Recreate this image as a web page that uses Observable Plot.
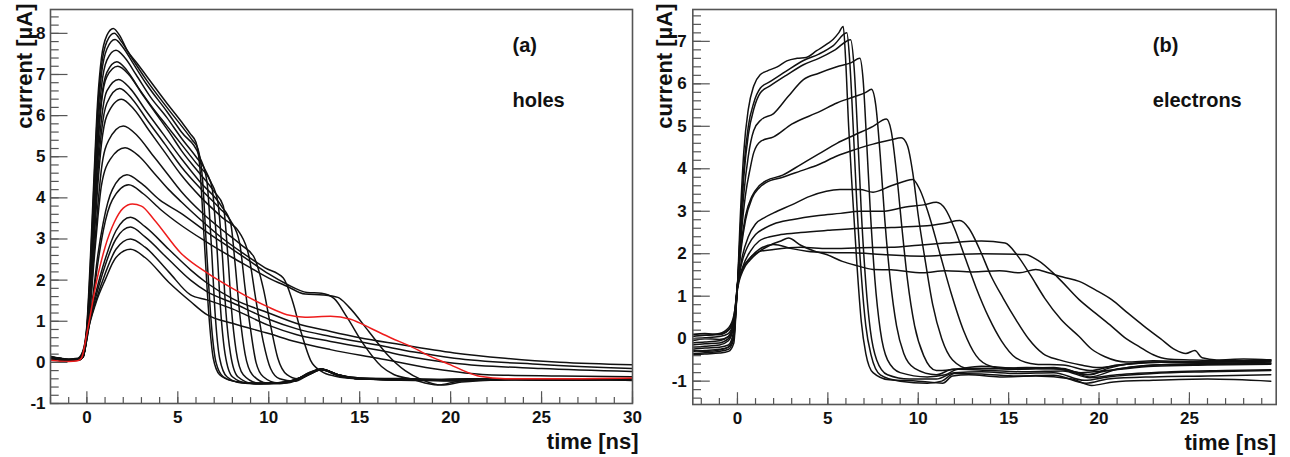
<!DOCTYPE html>
<html><head><meta charset="utf-8">
<script src="https://cdn.jsdelivr.net/npm/d3@7"></script>
<script src="https://cdn.jsdelivr.net/npm/@observablehq/plot@0.6"></script>
<style>
body{margin:0;background:#fff;}
#wrap{position:relative;width:1290px;height:457px;background:#fff;}
#wrap > svg{position:absolute;top:0;}
</style></head><body><div id="wrap"></div>
<script>
// ---------- (a) holes: [time ns, current uA] ----------
const h1 = [[-2,0.15],[-1.5,0.1],[-1,0.08],[-0.5,0.1],[-0.2,0.3],[0,0.9],[0.2,2.6],[0.4,4.6],[0.6,6.4],[0.8,7.4],[1.1,7.95],[1.45,8.12],[1.8,7.95],[2.2,7.6],[2.8,7.25],[3.3,6.95],[4.4,6.3],[5.2,5.85],[5.7,5.55],[6.0,5.35],[6.2,4.8],[6.45,3.0],[6.7,1.2],[6.95,0.1],[7.3,-0.3],[8,-0.45],[9,-0.5],[10.5,-0.5],[11.5,-0.42],[12.2,-0.25],[12.9,-0.17],[13.6,-0.28],[14.5,-0.38],[16,-0.4],[18,-0.42],[20,-0.43],[22,-0.4],[25,-0.42],[28,-0.4],[30,-0.42]];
const h2 = [[-2,0.12],[-1.5,0.1],[-1,0.06],[-0.5,0.08],[-0.2,0.28],[0,0.85],[0.2,2.4],[0.4,4.4],[0.6,6.2],[0.8,7.2],[1.1,7.8],[1.5,8.0],[1.9,7.8],[2.4,7.45],[3.3,6.85],[4.4,6.2],[5.2,5.75],[5.8,5.4],[6.1,5.2],[6.35,4.5],[6.6,2.6],[6.85,0.9],[7.1,0.0],[7.5,-0.35],[8.3,-0.48],[9.5,-0.52],[11,-0.48],[11.8,-0.38],[12.9,-0.18],[13.7,-0.3],[15,-0.4],[17,-0.42],[20,-0.44],[24,-0.4],[27,-0.43],[30,-0.4]];
const h3 = [[-2,0.1],[-1.5,0.08],[-1,0.05],[-0.5,0.07],[-0.2,0.25],[0,0.8],[0.2,2.2],[0.4,4.2],[0.6,6.0],[0.8,7.0],[1.1,7.62],[1.55,7.85],[2.0,7.65],[2.5,7.3],[3.3,6.75],[4.4,6.1],[5.2,5.6],[6.2,5.0],[6.6,4.4],[6.85,2.8],[7.05,1.2],[7.3,0.1],[7.7,-0.35],[8.5,-0.5],[9.5,-0.52],[11,-0.47],[11.8,-0.36],[12.9,-0.16],[13.8,-0.3],[15,-0.38],[18,-0.4],[21,-0.42],[25,-0.4],[30,-0.44]];
const h4 = [[-2,0.14],[-1.5,0.1],[-1,0.07],[-0.5,0.08],[-0.2,0.26],[0,0.8],[0.2,2.1],[0.4,4.0],[0.6,5.7],[0.8,6.7],[1.1,7.35],[1.6,7.59],[2.1,7.4],[2.7,7.0],[3.5,6.45],[4.4,5.95],[5.2,5.45],[6.0,5.0],[6.6,4.6],[6.9,4.2],[7.15,2.8],[7.35,1.3],[7.6,0.2],[8.0,-0.35],[8.8,-0.5],[10,-0.52],[11.2,-0.45],[12,-0.32],[12.9,-0.17],[13.8,-0.3],[15,-0.4],[18,-0.42],[22,-0.41],[26,-0.42],[30,-0.41]];
const h5 = [[-2,0.1],[-1.5,0.07],[-1,0.05],[-0.5,0.07],[-0.2,0.24],[0,0.75],[0.2,2.0],[0.4,3.8],[0.6,5.4],[0.8,6.4],[1.1,7.05],[1.65,7.31],[2.2,7.1],[2.8,6.7],[3.6,6.2],[4.4,5.75],[5.2,5.3],[6.0,4.85],[6.8,4.4],[7.2,3.9],[7.45,2.6],[7.65,1.2],[7.9,0.2],[8.3,-0.35],[9.2,-0.52],[10.5,-0.5],[11.5,-0.42],[12.2,-0.26],[12.9,-0.16],[13.8,-0.32],[15,-0.4],[18,-0.44],[21,-0.4],[25,-0.43],[30,-0.4]];
const h6 = [[-2,0.12],[-1.5,0.1],[-1,0.06],[-0.5,0.06],[-0.2,0.22],[0,0.72],[0.2,1.9],[0.4,3.6],[0.6,5.2],[0.8,6.3],[1.1,6.95],[1.7,7.2],[2.3,7.0],[3.0,6.55],[3.8,6.05],[4.6,5.55],[5.2,5.15],[6.0,4.7],[7.0,4.15],[7.5,3.8],[7.75,2.6],[7.95,1.3],[8.2,0.3],[8.6,-0.3],[9.4,-0.5],[10.6,-0.52],[11.6,-0.4],[12.9,-0.18],[13.8,-0.31],[15,-0.4],[18,-0.41],[21,-0.44],[25,-0.41],[30,-0.42]];
const h7 = [[-2,0.1],[-1.5,0.08],[-1,0.05],[-0.5,0.06],[-0.2,0.2],[0,0.7],[0.2,1.8],[0.4,3.4],[0.6,4.9],[0.8,5.9],[1.1,6.6],[1.75,6.88],[2.4,6.65],[3.2,6.15],[4.2,5.55],[5.2,4.95],[6.2,4.4],[7.4,3.8],[7.9,3.4],[8.15,2.4],[8.4,1.2],[8.7,0.2],[9.1,-0.3],[9.9,-0.5],[11,-0.5],[11.8,-0.38],[12.9,-0.17],[13.8,-0.3],[15,-0.4],[18,-0.43],[22,-0.4],[26,-0.43],[30,-0.4]];
const h8 = [[-2,0.13],[-1.5,0.1],[-1,0.07],[-0.5,0.07],[-0.2,0.2],[0,0.68],[0.2,1.7],[0.4,3.2],[0.6,4.6],[0.8,5.6],[1.1,6.3],[1.8,6.66],[2.5,6.4],[3.3,5.9],[4.3,5.3],[5.2,4.75],[6.3,4.2],[7.3,3.75],[7.9,3.45],[8.4,2.9],[8.7,1.8],[9.0,0.8],[9.3,0.0],[9.7,-0.35],[10.5,-0.5],[11.4,-0.45],[12.2,-0.28],[12.9,-0.17],[13.8,-0.3],[15,-0.38],[18,-0.42],[21,-0.42],[25,-0.4],[30,-0.43]];
const h9 = [[-2,0.1],[-1.5,0.07],[-1,0.04],[-0.5,0.05],[-0.2,0.18],[0,0.65],[0.2,1.6],[0.4,3.0],[0.6,4.3],[0.8,5.3],[1.1,6.0],[1.9,6.4],[2.6,6.15],[3.4,5.65],[4.3,5.1],[5.2,4.55],[6.3,4.0],[7.5,3.5],[8.4,3.15],[8.9,2.6],[9.3,1.5],[9.7,0.5],[10.1,-0.15],[10.6,-0.4],[11.4,-0.46],[12.2,-0.3],[12.9,-0.18],[13.8,-0.3],[15,-0.4],[18,-0.43],[22,-0.42],[26,-0.4],[30,-0.41]];
const h10 = [[-2,0.12],[-1.5,0.09],[-1,0.06],[-0.5,0.06],[-0.2,0.17],[0,0.62],[0.2,1.5],[0.4,2.7],[0.6,3.8],[0.8,4.7],[1.2,5.4],[2.0,5.75],[2.8,5.5],[3.6,5.05],[4.4,4.6],[5.2,4.15],[6.3,3.65],[7.5,3.2],[8.5,2.85],[9.2,2.55],[9.7,1.8],[10.1,0.9],[10.5,0.1],[11.0,-0.3],[11.6,-0.4],[12.3,-0.28],[12.9,-0.17],[13.8,-0.3],[15,-0.4],[17,-0.42],[20,-0.45],[24,-0.41],[30,-0.43]];
const h11 = [[-2,0.1],[-1.5,0.07],[-1,0.05],[-0.5,0.05],[-0.2,0.16],[0,0.6],[0.2,1.4],[0.4,2.5],[0.6,3.5],[0.8,4.3],[1.3,4.95],[2.1,5.22],[2.9,5.0],[3.7,4.6],[4.5,4.2],[5.2,3.9],[6.3,3.45],[7.5,3.0],[8.6,2.65],[9.8,2.3],[10.8,2.05],[11.3,1.5],[11.8,0.7],[12.3,0.05],[12.9,-0.22],[13.6,-0.33],[15,-0.4],[17,-0.41],[20,-0.44],[24,-0.42],[30,-0.4]];
const h12 = [[-2,0.12],[-1.5,0.08],[-1,0.05],[-0.5,0.05],[-0.2,0.15],[0,0.58],[0.3,1.5],[0.6,2.6],[0.9,3.4],[1.4,4.2],[2.2,4.56],[3.0,4.35],[4.0,3.95],[5.16,3.63],[6.5,3.2],[8,2.75],[9,2.45],[10,2.15],[11,1.9],[12.1,1.7],[12.9,1.68],[13.6,1.55],[14.3,1.1],[15.2,0.45],[16.2,-0.1],[16.9,-0.3],[17.8,-0.4],[19.3,-0.55],[20.5,-0.45],[23,-0.4],[26,-0.42],[30,-0.4]];
const h13 = [[-2,0.1],[-1.5,0.07],[-1,0.04],[-0.5,0.05],[-0.2,0.15],[0,0.56],[0.3,1.4],[0.6,2.4],[0.9,3.2],[1.4,3.95],[2.3,4.32],[3.1,4.1],[4.1,3.7],[5.16,3.34],[6.5,2.95],[8,2.55],[9,2.3],[10,2.05],[11,1.85],[12,1.66],[13,1.64],[13.8,1.58],[14.4,1.35],[15.5,0.75],[16.5,0.2],[17.5,-0.2],[18.4,-0.42],[19.5,-0.55],[20.6,-0.48],[23,-0.42],[26,-0.4],[30,-0.42]];
const h15 = [[-2,0.1],[-1.5,0.07],[-1,0.05],[-0.5,0.05],[-0.2,0.14],[0,0.7],[0.5,1.7],[1,2.5],[1.6,3.2],[2.4,3.53],[3.2,3.3],[4.5,2.75],[5.7,2.25],[6.6,1.93],[8,1.55],[10,1.2],[11.5,0.95],[13.4,0.75],[15,0.6],[17,0.45],[20.2,0.23],[23,0.1],[26,0.0],[30,-0.06]];
const h16 = [[-2,0.12],[-1.5,0.08],[-1,0.05],[-0.5,0.06],[-0.2,0.14],[0,0.68],[0.5,1.6],[1,2.35],[1.6,3.0],[2.4,3.29],[3.2,3.05],[4.5,2.5],[5.7,2.0],[6.6,1.72],[8,1.45],[10,1.05],[11.5,0.82],[13.4,0.63],[16,0.42],[18,0.25],[20.2,0.1],[25,-0.05],[30,-0.15]];
const h17 = [[-2,0.08],[-1.5,0.06],[-1,0.04],[-0.5,0.05],[-0.2,0.13],[0,0.66],[0.5,1.5],[1,2.15],[1.6,2.75],[2.4,3.0],[3.2,2.8],[4.5,2.2],[5.7,1.64],[6.6,1.52],[8,1.3],[10,0.9],[11.5,0.68],[13.4,0.51],[16,0.3],[18,0.12],[20.2,-0.02],[25,-0.15],[30,-0.22]];
const h18 = [[-2,0.1],[-1.5,0.07],[-1,0.05],[-0.5,0.05],[-0.2,0.13],[0,0.64],[0.5,1.45],[1,2.0],[1.6,2.55],[2.4,2.75],[3.2,2.55],[4.5,1.95],[5.7,1.48],[6.6,1.16],[8,0.95],[10,0.7],[11.5,0.5],[13.4,0.31],[16,0.1],[19,-0.15],[22,-0.3],[26,-0.33],[30,-0.35]];
const hRed = [[-2,0.05],[-1.5,0.03],[-1,0.02],[-0.5,0.04],[-0.3,0.1],[0,0.7],[0.5,1.9],[1,2.8],[1.5,3.4],[2,3.75],[2.5,3.85],[3,3.8],[3.7,3.47],[5.16,2.66],[6.63,2.17],[8,1.8],[9.9,1.36],[11,1.16],[12,1.1],[13.4,1.12],[14.5,1.05],[15.6,0.83],[16.7,0.6],[17.8,0.39],[19,0.12],[20,-0.06],[20.8,-0.22],[21.6,-0.34],[23,-0.4],[26,-0.4],[30,-0.38]];
const holesBlack = [h1,h2,h3,h4,h5,h6,h7,h8,h9,h10,h11,h12,h13,h15,h16,h17,h18];

// ---------- (b) electrons ----------
const e1 = [[-2.5,-0.05],[-1.8,0.0],[-1,-0.02],[-0.5,0.05],[-0.2,0.3],[0,1.25],[0.15,2.8],[0.35,4.4],[0.6,5.4],[0.9,5.95],[1.27,6.22],[1.63,6.3],[2.2,6.4],[2.73,6.54],[3.3,6.6],[3.8,6.62],[4.38,6.78],[5.0,6.95],[5.3,7.05],[5.6,7.2],[5.85,7.35],[5.98,6.6],[6.15,5.0],[6.35,3.5],[6.6,1.8],[6.85,0.4],[7.1,-0.35],[7.5,-0.8],[8.4,-0.97],[10,-1.0],[11.35,-1.05],[11.9,-0.88],[12.8,-0.85],[14.5,-0.9],[16.5,-0.88],[18.5,-0.95],[19.6,-1.1],[20.8,-1.02],[23,-0.98],[26,-0.95],[29.5,-1.0]];
const e2 = [[-2.5,0.1],[-1.8,0.08],[-1,0.12],[-0.5,0.25],[-0.2,0.55],[0,1.25],[0.15,2.5],[0.35,4.0],[0.6,5.0],[0.9,5.55],[1.27,5.9],[1.8,6.05],[2.7,6.3],[3.65,6.55],[4.5,6.7],[5.3,6.9],[6.05,7.2],[6.2,6.6],[6.4,5.0],[6.6,3.2],[6.85,1.5],[7.1,0.3],[7.4,-0.4],[7.9,-0.85],[9,-1.0],[10.5,-1.05],[11.3,-1.0],[12,-0.82],[13.5,-0.83],[15.5,-0.88],[17.5,-0.86],[19.3,-1.05],[20.5,-0.95],[23,-0.9],[26,-0.88],[29.5,-0.85]];
const e3 = [[-2.5,-0.1],[-1.8,-0.08],[-1,-0.05],[-0.5,0.05],[-0.2,0.4],[0,1.25],[0.15,2.4],[0.35,3.8],[0.6,4.8],[0.9,5.4],[1.27,5.79],[1.8,5.95],[2.7,6.2],[3.65,6.45],[4.5,6.6],[5.4,6.8],[6.26,7.04],[6.45,6.4],[6.65,4.8],[6.85,3.0],[7.1,1.3],[7.35,0.2],[7.7,-0.5],[8.3,-0.85],[9.5,-0.95],[11,-0.95],[12,-0.8],[13.5,-0.78],[15.5,-0.82],[17.5,-0.8],[19.2,-0.98],[20.5,-0.9],[23,-0.82],[26,-0.78],[29.5,-0.75]];
const e4 = [[-2.5,0.0],[-1.8,0.02],[-1,0.05],[-0.5,0.12],[-0.2,0.45],[0,1.25],[0.15,2.2],[0.35,3.4],[0.6,4.3],[0.9,4.9],[1.3,5.15],[2.0,5.3],[2.8,5.7],[3.65,6.1],[4.5,6.25],[5.5,6.4],[6.3,6.5],[6.77,6.6],[6.95,6.1],[7.15,4.6],[7.35,3.0],[7.6,1.4],[7.9,0.2],[8.3,-0.5],[9,-0.8],[10.5,-0.9],[11.5,-0.85],[12.2,-0.72],[14,-0.75],[16,-0.78],[18,-0.76],[19.5,-0.92],[21,-0.85],[24,-0.78],[27,-0.75],[29.5,-0.73]];
const e5 = [[-2.5,-0.2],[-1.8,-0.18],[-1,-0.15],[-0.5,-0.05],[-0.2,0.3],[0,1.25],[0.2,2.4],[0.45,3.4],[0.7,4.0],[0.9,4.38],[1.3,4.65],[2.0,4.75],[3.0,5.05],[4.57,5.35],[5.5,5.55],[6.5,5.7],[7.1,5.8],[7.41,5.87],[7.65,5.5],[7.9,4.3],[8.15,2.8],[8.45,1.4],[8.8,0.3],[9.2,-0.35],[9.8,-0.7],[11,-0.85],[11.9,-0.72],[13.5,-0.7],[15.5,-0.72],[17.5,-0.7],[19,-0.8],[20.5,-0.75],[23,-0.65],[26,-0.62],[29.5,-0.6]];
const e6 = [[-2.5,-0.25],[-1.8,-0.22],[-1,-0.2],[-0.5,-0.15],[-0.2,0.2],[0,1.25],[0.2,2.2],[0.45,2.9],[0.8,3.35],[1.2,3.6],[1.6,3.72],[2.5,3.85],[3.5,4.1],[4.5,4.35],[5.5,4.6],[6.5,4.8],[7.5,5.0],[8.24,5.17],[8.5,4.9],[8.8,3.9],[9.1,2.6],[9.4,1.4],[9.8,0.3],[10.3,-0.4],[11,-0.75],[12,-0.72],[13.5,-0.65],[15.5,-0.7],[17.5,-0.68],[19.2,-0.85],[20.5,-0.75],[23,-0.62],[26,-0.6],[29.5,-0.58]];
const e7 = [[-2.5,-0.3],[-1.8,-0.28],[-1,-0.25],[-0.5,-0.2],[-0.2,0.1],[0,1.25],[0.2,2.1],[0.45,2.8],[0.8,3.3],[1.2,3.55],[1.6,3.68],[2.5,3.8],[3.5,3.95],[4.5,4.1],[5.5,4.3],[6.5,4.45],[7.5,4.58],[8.5,4.68],[9.06,4.73],[9.4,4.55],[9.7,3.9],[10.0,2.9],[10.4,1.8],[10.8,0.8],[11.3,0.0],[11.9,-0.5],[12.8,-0.7],[14,-0.7],[16,-0.68],[18,-0.7],[19.5,-0.9],[21,-0.72],[24,-0.6],[27,-0.58],[29.5,-0.55]];
const e8 = [[-2.5,0.05],[-1.8,0.08],[-1,0.1],[-0.5,0.2],[-0.2,0.5],[0,1.25],[0.25,1.9],[0.6,2.4],[1.0,2.7],[1.5,2.85],[2.0,2.96],[3,3.15],[4,3.35],[5.67,3.51],[6.77,3.51],[7.5,3.45],[8.5,3.6],[9.2,3.7],[9.7,3.75],[10.1,3.5],[10.6,2.9],[11.2,2.0],[11.8,1.1],[12.5,0.2],[13.2,-0.4],[14,-0.65],[15,-0.72],[16.5,-0.7],[18,-0.72],[19.5,-0.85],[20.5,-0.7],[23,-0.55],[26,-0.55],[29.5,-0.52]];
const e9 = [[-2.5,-0.15],[-1.8,-0.12],[-1,-0.1],[-0.5,0.0],[-0.2,0.3],[0,1.25],[0.25,1.8],[0.6,2.2],[1.0,2.45],[1.5,2.6],[2.0,2.7],[3,2.8],[4.5,2.9],[5.7,2.95],[6.77,3.0],[8,3.0],[9.3,3.1],[10.3,3.15],[11.0,3.21],[11.5,3.05],[12.0,2.6],[12.6,1.9],[13.2,1.2],[13.9,0.5],[14.6,-0.05],[15.4,-0.45],[16.5,-0.6],[18,-0.62],[19.5,-0.75],[21,-0.62],[24,-0.55],[27,-0.55],[29.5,-0.53]];
const e10 = [[-2.5,-0.35],[-1.8,-0.33],[-1,-0.3],[-0.5,-0.25],[-0.2,0.0],[0,1.2],[0.3,1.7],[0.7,2.05],[1.2,2.3],[1.8,2.4],[2.4,2.45],[3.5,2.5],[5,2.55],[6.8,2.6],[8.5,2.62],[10.25,2.65],[11.5,2.72],[12.3,2.78],[12.8,2.6],[13.4,2.1],[14.0,1.5],[14.7,0.95],[15.4,0.45],[16.1,0.0],[16.9,-0.35],[17.8,-0.5],[19,-0.62],[20,-0.68],[21.5,-0.6],[24,-0.55],[27,-0.6],[29.5,-0.58]];
const e11 = [[-2.5,-0.28],[-1.8,-0.3],[-1,-0.27],[-0.5,-0.2],[-0.2,0.05],[0,1.2],[0.3,1.65],[0.7,1.9],[1.2,2.05],[2.0,2.1],[3.5,2.15],[5,2.12],[6.8,2.14],[8.5,2.15],[10,2.2],[11.5,2.25],[13.5,2.3],[14.8,2.25],[15.5,1.95],[16.2,1.5],[17,0.95],[17.9,0.45],[18.9,0.05],[19.6,-0.25],[20.3,-0.42],[21.5,-0.55],[23,-0.52],[26,-0.55],[29.5,-0.5]];
const e12 = [[-2.5,0.1],[-1.8,0.12],[-1,0.1],[-0.5,0.2],[-0.2,0.45],[0,1.25],[0.3,1.65],[0.7,1.9],[1.2,2.1],[2.0,2.22],[3.0,2.12],[3.84,2.06],[5,2.03],[6.4,2.02],[8,1.98],[10.25,1.94],[12,1.98],[13.5,2.0],[15.9,1.98],[16.6,1.85],[17.7,1.45],[18.9,0.92],[19.8,0.6],[20.7,0.29],[21.5,0.0],[22.2,-0.18],[23,-0.38],[23.8,-0.48],[25,-0.5],[27,-0.52],[29.5,-0.5]];
const e13 = [[-2.5,-0.38],[-1.8,-0.36],[-1,-0.34],[-0.5,-0.3],[-0.2,-0.1],[0,1.15],[0.3,1.6],[0.7,1.85],[1.2,2.05],[1.8,2.2],[2.4,2.3],[2.82,2.37],[3.5,2.2],[4.2,2.07],[4.93,1.98],[5.8,1.82],[6.6,1.72],[7.5,1.63],[8.5,1.62],[10.25,1.55],[11.5,1.6],[13,1.57],[14.5,1.6],[15.6,1.55],[16.5,1.63],[17.2,1.55],[18.0,1.45],[18.9,1.35],[19.8,1.15],[20.7,0.92],[21.6,0.6],[22.5,0.29],[23.4,0.0],[24.2,-0.26],[24.8,-0.35],[25.3,-0.28],[25.7,-0.45],[26.5,-0.5],[28,-0.48],[29.5,-0.5]];
const electronsBlack = [e1,e2,e3,e4,e5,e6,e7,e8,e9,e10,e11,e12,e13];

// ---------- ticks ----------
const aXMajor = [0,5,10,15,20,25,30];
const aXMinor = d3.range(-2, 30.01, 1);
const aYMajor = [-1,0,1,2,3,4,5,6,7,8];
const aYMinor = d3.range(-1, 8.59, 0.2);
const bXMajor = [0,5,10,15,20,25];
const bXMinor = d3.range(-2, 29.81, 1);
const bYMajor = [-1,0,1,2,3,4,5,6,7];
const bYMinor = d3.range(-1.4, 7.76, 0.2);

const FONT = "'Liberation Sans', Arial, Helvetica, sans-serif";
const FRAME = "#555";
const INK = "#111";

function rows(list) {
  const out = [];
  list.forEach((c, k) => c.forEach(([t, i]) => out.push({t, i, id: k})));
  return out;
}

function panel(o) {
  const W = o.width - o.ml - o.mr, H = o.height - o.mt - o.mb;
  const bold = {fontFamily: FONT, fontWeight: "bold", fill: INK};
  const marks = [
    Plot.line(rows(o.black), {x: "t", y: "i", z: "id", stroke: INK, strokeWidth: 1.5, curve: "monotone-x", clip: true}),
  ];
  if (o.red) marks.push(Plot.line(o.red, {x: d => d[0], y: d => d[1], stroke: "#ee1c1c", strokeWidth: 1.5, curve: "monotone-x", clip: true}));
  marks.push(
    Plot.tickY(o.yMinor, {insetRight: W - 8.7, stroke: FRAME, strokeWidth: 1.2}),
    Plot.tickY(o.yMajor, {insetRight: W - 17.5, stroke: FRAME, strokeWidth: 1.2}),
    Plot.tickX(o.xMinor, {insetTop: H - 5.9, stroke: FRAME, strokeWidth: 1.2}),
    Plot.tickX(o.xMajor, {insetTop: H - 11.8, stroke: FRAME, strokeWidth: 1.2}),
    Plot.frame({stroke: FRAME, strokeWidth: 1.6}),
    // tick labels
    Plot.text(o.xMajor, {x: d => d, text: d => String(d), frameAnchor: "bottom", lineAnchor: "middle", dy: 14, fontSize: 17, ...bold}),
    Plot.text(o.yMajor, {y: d => d, text: d => String(d), frameAnchor: "left", textAnchor: "end", lineAnchor: "middle", dx: -o.ypad, fontSize: 17, ...bold}),
    // axis titles
    Plot.text(["current [µA]"], {frameAnchor: "top-left", rotate: -90, textAnchor: "end", lineAnchor: "middle", dx: o.ylabDx, dy: -6, fontSize: 22, ...bold}),
    Plot.text(["time [ns]"], {frameAnchor: "bottom-right", textAnchor: "end", lineAnchor: "middle", dx: o.xlabDx, dy: 38, fontSize: 22, ...bold}),
    // panel labels
    Plot.text([o.tag], {frameAnchor: "top-left", textAnchor: "start", lineAnchor: "middle", dx: o.tagDx, dy: 36, fontSize: 20, ...bold}),
    Plot.text([o.carrier], {frameAnchor: "top-left", textAnchor: "start", lineAnchor: "middle", dx: o.tagDx, dy: 91, fontSize: 20, ...bold})
  );
  return Plot.plot({
    width: o.width, height: o.height,
    marginLeft: o.ml, marginRight: o.mr, marginTop: o.mt, marginBottom: o.mb,
    x: {domain: o.xDomain, axis: null},
    y: {domain: o.yDomain, axis: null},
    style: {fontFamily: FONT, background: "#fff", overflow: "visible"},
    marks
  });
}

const wrap = document.getElementById("wrap");
const left = panel({width: 645, height: 457, ml: 50, mr: 13, mt: 9, mb: 54,
  xDomain: [-2, 30], yDomain: [-1, 8.58],
  xMajor: aXMajor, xMinor: aXMinor, yMajor: aYMajor, yMinor: aYMinor,
  black: holesBlack, red: hRed, ypad: 5, ylabDx: -26, xlabDx: 6, tagDx: 462, tag: "(a)", carrier: "holes"});
left.style.left = "0px";
const right = panel({width: 645, height: 457, ml: 47.3, mr: 14.3, mt: 9, mb: 53,
  xDomain: [-2.47, 29.8], yDomain: [-1.55, 7.75],
  xMajor: bXMajor, xMinor: bXMinor, yMajor: bYMajor, yMinor: bYMinor,
  black: electronsBlack, red: null, ypad: 6, ylabDx: -28, xlabDx: 0, tagDx: 460, tag: "(b)", carrier: "electrons"});
right.style.left = "645px";
wrap.append(left, right);
</script></body></html>
